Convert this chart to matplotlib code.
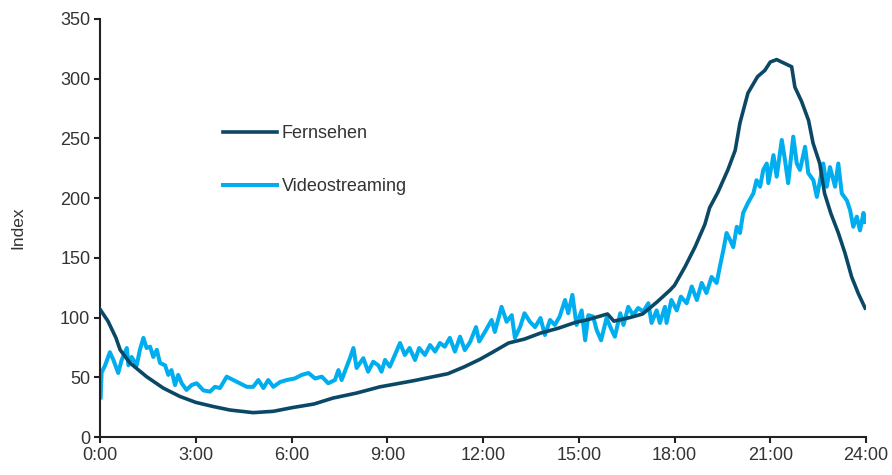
import matplotlib
matplotlib.use("Agg")
import matplotlib.pyplot as plt

plt.rcParams['font.family'] = ['Liberation Sans', 'DejaVu Sans']

# Fernsehen (hours, index)
tv_h = [0, 0.25, 0.5, 0.63, 0.94, 1.46, 1.98, 2.5, 3.0, 3.55, 4.07, 4.8, 5.43,
        6.0, 6.7, 7.3, 8.04, 8.77, 9.8, 10.9, 11.4, 11.9, 12.3, 12.8, 13.3,
        13.8, 14.35, 14.9, 15.25, 15.9, 16.1, 16.6, 17.0, 17.45, 17.86, 18.0,
        18.33, 18.64, 18.95, 19.1, 19.36, 19.67, 19.9, 20.05, 20.3, 20.6,
        20.83, 21.0, 21.2, 21.67, 21.77, 21.98, 22.2, 22.34, 22.55, 22.7,
        22.9, 23.13, 23.34, 23.55, 23.76, 23.97]
tv = [107, 97, 83, 73, 62, 50.5, 41, 34, 29, 25.5, 22.6, 20.4, 21.5,
      24.5, 27.6, 32.6, 36.8, 42, 47, 53, 58.6, 65, 71, 78.7, 82,
      87, 91, 96, 98, 103, 97, 100, 103, 113, 123, 127,
      142.6, 159, 178, 192, 205, 223.6, 240, 263, 288, 301.7,
      307, 314, 316, 310, 293, 281, 265, 246, 229, 204,
      187, 171, 154, 134, 120, 108]

# Videostreaming (hours, index)
vs_h = [0.02, 0.05, 0.16, 0.31, 0.42, 0.57, 0.68, 0.84, 0.89, 0.99, 1.15, 1.25,
        1.36, 1.46, 1.57, 1.67, 1.78, 1.88, 2.04, 2.14, 2.24, 2.35, 2.45, 2.56,
        2.71, 2.87, 3.03, 3.24, 3.45, 3.6, 3.76, 3.97, 4.18, 4.39, 4.6, 4.8,
        4.96, 5.12, 5.27, 5.43, 5.64, 5.85, 6.1, 6.32, 6.53, 6.74, 6.95, 7.15,
        7.36, 7.47, 7.57, 7.73, 7.83, 7.94, 8.04, 8.25, 8.4, 8.56, 8.72, 8.82,
        8.93, 9.08, 9.24, 9.4, 9.55, 9.7, 9.87, 10.0, 10.18, 10.34, 10.5, 10.65,
        10.8, 10.96, 11.12, 11.28, 11.43, 11.6, 11.78, 11.88, 12.06, 12.27,
        12.37, 12.58, 12.74, 12.9, 13.0, 13.16, 13.3, 13.47, 13.63, 13.8,
        13.94, 14.1, 14.25, 14.4, 14.57, 14.67, 14.8, 14.93, 15.09, 15.2,
        15.3, 15.45, 15.56, 15.7, 15.87, 16.03, 16.13, 16.3, 16.4, 16.55,
        16.7, 16.86, 17.02, 17.18, 17.28, 17.44, 17.54, 17.7, 17.75, 17.9,
        18.07, 18.2, 18.38, 18.54, 18.7, 18.85, 19.0, 19.16, 19.32, 19.42,
        19.53, 19.63, 19.74, 19.84, 19.95, 20.05, 20.15, 20.3, 20.47, 20.57,
        20.68, 20.78, 20.89, 20.94, 21.1, 21.2, 21.36, 21.46, 21.56, 21.72,
        21.83, 21.93, 22.09, 22.19, 22.35, 22.46, 22.56, 22.66, 22.77, 22.87,
        23.03, 23.13, 23.24, 23.4, 23.5, 23.6, 23.71, 23.81, 23.92, 23.97]
vs = [33, 54, 60, 71, 64.5, 53.6, 64.5, 74.5, 60, 67, 60, 73,
      83, 74.5, 75.6, 67, 73, 62, 60, 52, 56, 43.5, 52, 45,
      39.4, 43.5, 45, 39, 38, 42, 41, 50.5, 47.7, 45, 42, 42,
      47.7, 41, 47.7, 42, 46, 47.7, 49, 52, 53.6, 49, 50.5, 45,
      47.7, 56, 47.7, 58.9, 66, 74.5, 57.8, 66, 54.7, 63, 60, 54.7,
      64.5, 58.9, 68.7, 78.7, 68.7, 74.5, 64.5, 74.5, 68.7, 77, 71.5, 78.7,
      75.6, 83, 71.5, 84, 72.8, 79.8, 92, 80, 88, 98,
      88, 109, 96.5, 102, 83, 92, 103.6, 96.5, 92, 99.6,
      85.4, 98, 93.8, 100.8, 114.7, 103.6, 119, 93.8, 106, 81,
      102, 100.8, 89.6, 81, 99.6, 89.6, 84, 103.6, 93.8, 109,
      102, 108, 105, 112, 95.5, 106, 95.5, 109, 95.5, 114.7,
      106, 117.5, 112, 126, 114.7, 129, 120.6, 134, 129, 142.6,
      156.6, 170.8, 165, 159, 176, 170.8, 187.6, 196, 204, 215,
      209.6, 223.6, 229, 212.6, 236, 218, 248.7, 232, 212.6, 251.5,
      229, 223.6, 243, 221, 215, 201, 215, 229, 209.6, 226,
      209.6, 229, 204, 198, 190, 176, 184.5, 173, 187.6, 180]

x_ticks = [0, 3, 6, 9, 12, 15, 18, 21, 24]
x_labels = ['0:00', '3:00', '6:00', '9:00', '12:00', '15:00', '18:00', '21:00', '24:00']
y_ticks = [0, 50, 100, 150, 200, 250, 300, 350]

fig = plt.figure(figsize=(8.92, 4.75), dpi=100)
ax = fig.add_axes([0.1121, 0.08, 0.8588, 0.88])

ax.plot(tv_h, tv, color='#0b4866', lw=2.6, solid_joinstyle='round', label='Fernsehen', zorder=3)
ax.plot(vs_h, vs, color='#00aeef', lw=2.9, solid_joinstyle='round', label='Videostreaming', zorder=2)

ax.set_xlim(0, 24)
ax.set_ylim(0, 350)
ax.set_xticks(x_ticks)
ax.set_xticklabels(x_labels)
ax.set_yticks(y_ticks)

for s in ['top', 'right']:
    ax.spines[s].set_visible(False)
for s in ['left', 'bottom']:
    ax.spines[s].set_linewidth(1.5)
    ax.spines[s].set_color('#222222')
ax.tick_params(direction='out', length=4, width=1.5, color='#222222',
               labelsize=13, labelcolor='#333333', pad=3)

ax.set_ylabel('Index', fontsize=12.5, color='#333333')
ax.yaxis.set_label_coords(-0.098, 0.5)

ax.legend(loc='center left', bbox_to_anchor=(0.1606, 0.6627), frameon=False,
          fontsize=13, handlelength=3.0, handletextpad=0.25, labelspacing=2.0,
          borderpad=0, borderaxespad=0, labelcolor='#333333')

fig.savefig('out.png', dpi=100)
